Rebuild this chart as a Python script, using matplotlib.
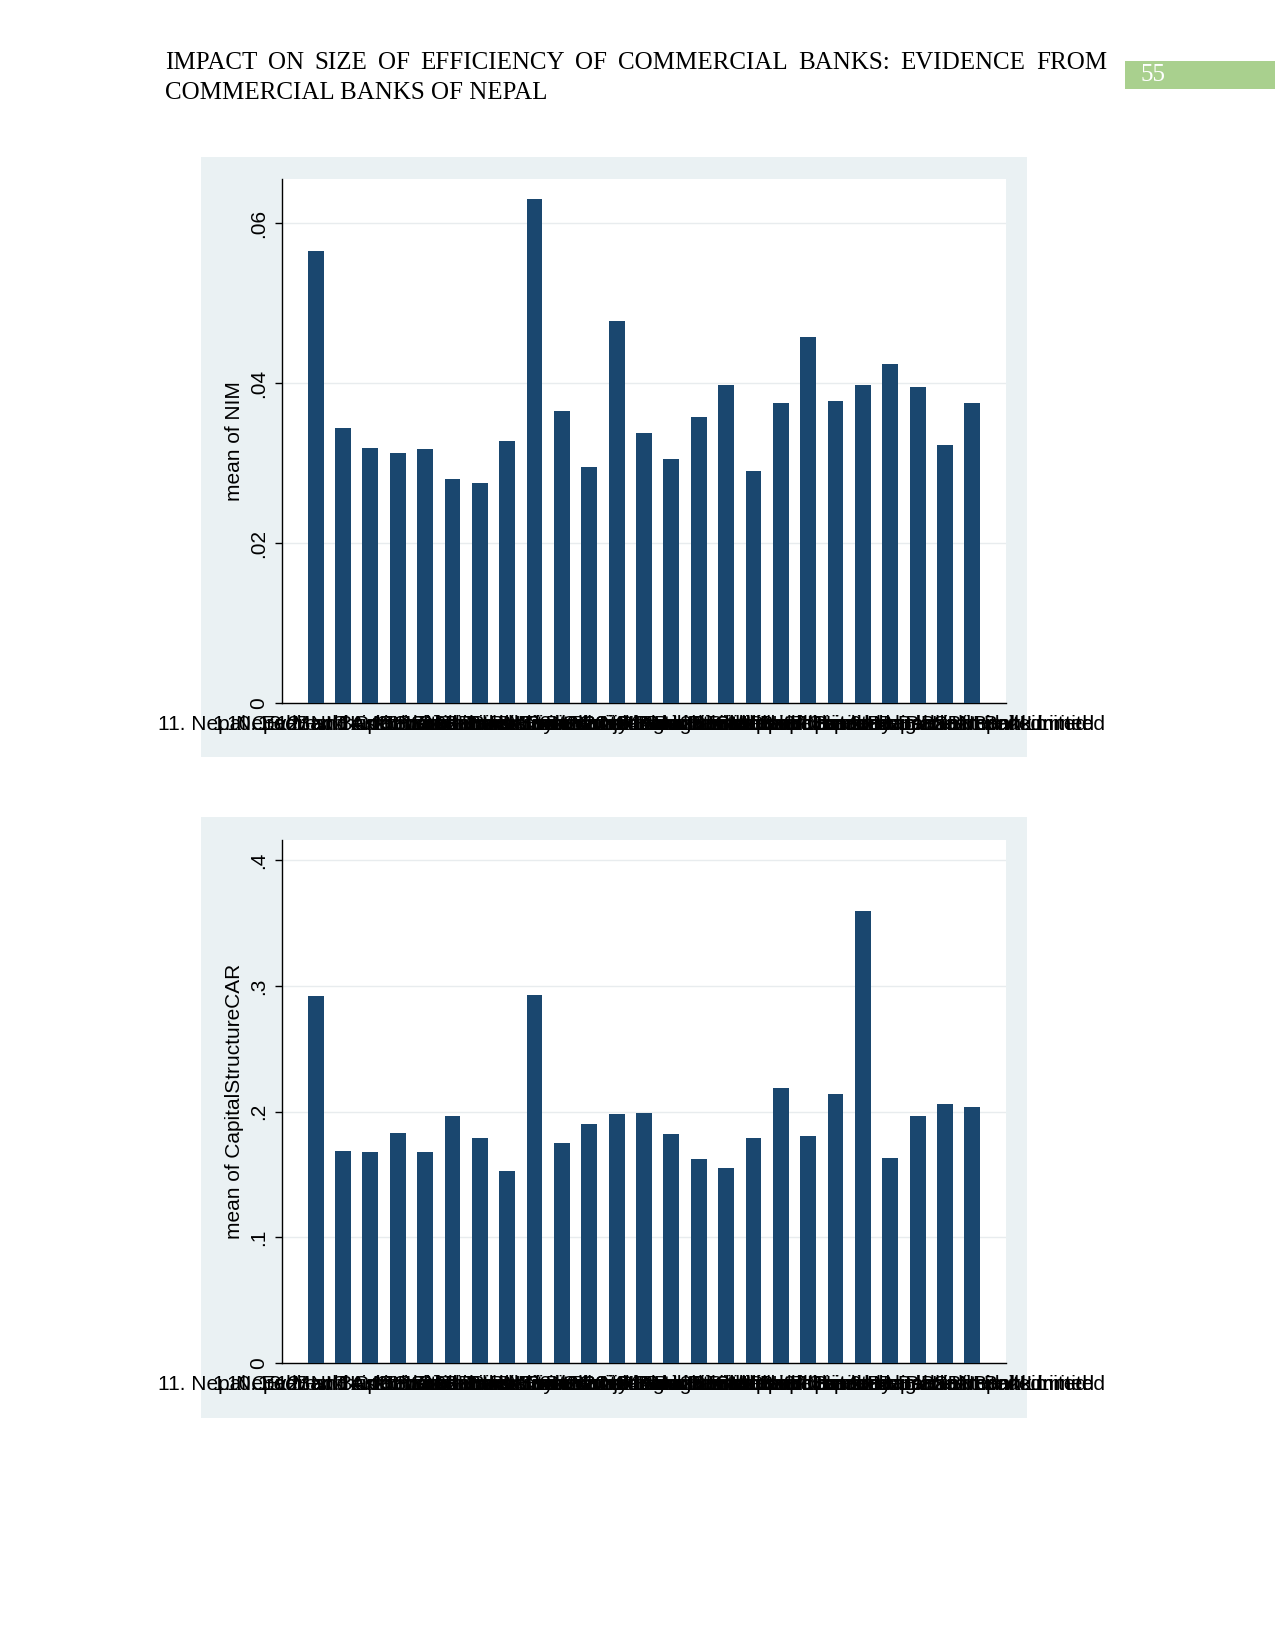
"""Mean NIM and mean capital adequacy ratio by bank (page 55 figures)."""

import matplotlib
matplotlib.use("Agg")
import matplotlib.pyplot as plt
from matplotlib.patches import Rectangle

plt.rcParams["font.family"] = ["Liberation Sans", "DejaVu Sans"]

HEADER_LINE1 = "IMPACT ON SIZE OF EFFICIENCY OF COMMERCIAL BANKS: EVIDENCE FROM"
HEADER_LINE2 = "COMMERCIAL BANKS OF NEPAL"
PAGE_NO = "55"

# bank categories, in Stata's string sort order
banks = [
    "1. Nepal Bank Limited",
    "10. Everest Bank Limited",
    "11. Nepal Credit and Commerce Bank Limited",
    "12. NIC Asia Bank Limited",
    "13. Machhapuchchhre Bank Limited",
    "14. Kumari Bank Limited",
    "15. Laxmi Bank Limited",
    "16. Siddhartha Bank Limited",
    "17. Global IME Bank Limited",
    "18. Citizens Bank International Limited",
    "19. Prime Commercial Bank Limited",
    "2. Rastriya Banijya Bank Limited",
    "20. Sunrise Bank Limited",
    "21. NMB Bank Limited",
    "22. Prabhu Bank Limited",
    "23. Janata Bank Nepal Limited",
    "24. Mega Bank Nepal Limited",
    "25. Civil Bank Limited",
    "3. Agricultural Development Bank Limited",
    "4. Nabil Bank Limited",
    "5. Nepal Investment Bank Limited",
    "6. Standard Chartered Bank Nepal Limited",
    "7. Himalayan Bank Limited",
    "8. Nepal Bangladesh Bank Limited",
    "9. Nepal SBI Bank Limited",
]

nim_mean = [
    0.0565, 0.0344, 0.0319, 0.0313, 0.0318, 0.0280, 0.0275, 0.0328, 0.0630,
    0.0365, 0.0295, 0.0477, 0.0338, 0.0305, 0.0357, 0.0398, 0.0290, 0.0375,
    0.0457, 0.0377, 0.0398, 0.0424, 0.0395, 0.0322, 0.0375,
]

car_mean = [
    0.292, 0.169, 0.168, 0.183, 0.168, 0.197, 0.179, 0.153, 0.293,
    0.175, 0.190, 0.198, 0.199, 0.182, 0.162, 0.155, 0.179, 0.219,
    0.181, 0.214, 0.360, 0.163, 0.197, 0.206, 0.204,
]

nim_ticks = [0, 0.02, 0.04, 0.06]
nim_ticklabels = ["0", ".02", ".04", ".06"]
car_ticks = [0, 0.1, 0.2, 0.3, 0.4]
car_ticklabels = ["0", ".1", ".2", ".3", ".4"]

BAR = "#1a476f"
PANEL = "#eaf1f3"
GRID = "#e8ecee"
W, H = 1275, 1650


def px_rect(x0, y0, x1, y1):
    """Pixel box (top-left origin) to figure-fraction rect."""
    return [x0 / W, 1 - y1 / H, (x1 - x0) / W, (y1 - y0) / H]


def bar_panel(fig, panel_box, axes_box, values, ticks, ticklabels, ylabel, ymax):
    l, b, w, h = px_rect(*panel_box)
    fig.patches.append(Rectangle((l, b), w, h, transform=fig.transFigure,
                                 facecolor=PANEL, edgecolor="none", zorder=-5))
    ax = fig.add_axes(px_rect(*axes_box))
    x = list(range(len(values)))
    ax.bar(x, values, width=0.58, color=BAR, edgecolor="none", zorder=3)
    ax.set_xlim(-1.23, len(values) - 1 + 1.23)
    ax.set_ylim(0, ymax)
    ax.set_yticks(ticks)
    ax.set_yticklabels(ticklabels, rotation=90, va="center")
    ax.set_xticks(x)
    ax.set_xticklabels(banks, ha="center")
    ax.tick_params(axis="x", length=0, pad=9, labelsize=15)
    ax.tick_params(axis="y", length=5, width=1, pad=5, labelsize=15)
    ax.yaxis.grid(True, color=GRID, linewidth=1)
    ax.set_axisbelow(True)
    ax.set_ylabel(ylabel, fontsize=15, labelpad=4)
    for side in ("top", "right"):
        ax.spines[side].set_visible(False)
    for side in ("left", "bottom"):
        ax.spines[side].set_linewidth(1)
    return ax


fig = plt.figure(figsize=(12.75, 16.5), dpi=100)

bar_panel(fig, (201, 157, 1027, 757), (282, 179, 1006, 703),
          nim_mean, nim_ticks, nim_ticklabels, "mean of NIM", 0.0655)
bar_panel(fig, (201, 817, 1027, 1418), (282, 839.5, 1006, 1363),
          car_mean, car_ticks, car_ticklabels, "mean of CapitalStructureCAR", 0.4167)

# running header, first line justified between the margins
serif = ["Liberation Serif", "DejaVu Serif"]
renderer = fig.canvas.get_renderer()
words = HEADER_LINE1.split()
texts = [fig.text(0, 1 - 69 / H, wd, family=serif, fontsize=18, va="baseline")
         for wd in words]
widths = [t.get_window_extent(renderer).width for t in texts]
left_px, right_px = 165, 1107
gap = (right_px - left_px - sum(widths)) / (len(words) - 1)
pos = left_px
for t, wd in zip(texts, widths):
    t.set_x(pos / W)
    pos += wd + gap
fig.text(left_px / W, 1 - 99 / H, HEADER_LINE2, family=serif, fontsize=18,
         va="baseline")

l, b, w, h = px_rect(1125, 61, 1275, 88.5)
fig.patches.append(Rectangle((l, b), w, h, transform=fig.transFigure,
                             facecolor="#a9d08e", edgecolor="none"))
fig.text(1141 / W, 1 - 75 / H, PAGE_NO, family=serif, fontsize=18,
         color="white", va="center")

fig.savefig("out.png", dpi=100)
